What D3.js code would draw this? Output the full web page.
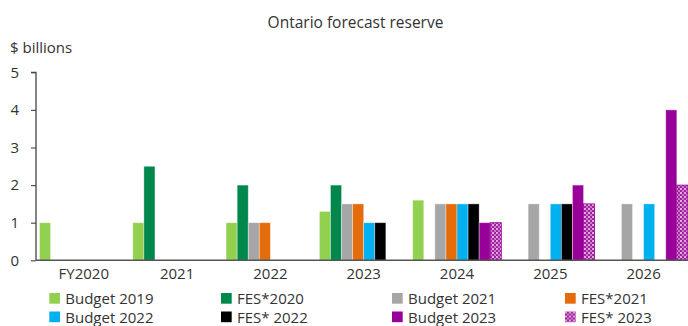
<!DOCTYPE html>
<html>
<head>
<meta charset="utf-8">
<script src="https://cdn.jsdelivr.net/npm/d3@7"></script>
<style>
  html, body { margin: 0; padding: 0; background: #fff; }
  svg { display: block; font-family: "Open Sans", "Noto Sans", sans-serif; }
</style>
</head>
<body>
<svg id="chart" width="688" height="326"></svg>
<script>
// Fiscal years on the category axis
const years = ["FY2020", "2021", "2022", "2023", "2024", "2025", "2026"];

// Each forecast vintage, $ billions per fiscal year (null = no forecast)
const budget2019 = [1, 1, 1, 1.3, 1.6, null, null];
const fes2020    = [null, 2.5, 2, 2, null, null, null];
const budget2021 = [null, null, 1, 1.5, 1.5, 1.5, 1.5];
const fes2021    = [null, null, 1, 1.5, 1.5, null, null];
const budget2022 = [null, null, null, 1, 1.5, 1.5, 1.5];
const fes2022    = [null, null, null, 1, 1.5, 1.5, null];
const budget2023 = [null, null, null, null, 1, 2, 4];
const fes2023    = [null, null, null, null, 1, 1.5, 2];

const seriesNames = ["Budget 2019", "FES*2020", "Budget 2021", "FES*2021",
                     "Budget 2022", "FES* 2022", "Budget 2023", "FES* 2023"];
const seriesValues = [budget2019, fes2020, budget2021, fes2021,
                      budget2022, fes2022, budget2023, fes2023];
const yTicks = [0, 1, 2, 3, 4, 5];

const colors = ["#92d050", "#00874b", "#a6a6a6", "#e46c0a",
                "#00b0f0", "#000000", "#990099", "url(#fesCheck)"];

const svg = d3.select("#chart");
const textColor = "#333";

// Checkered fill for the FES* 2023 vintage
const defs = svg.append("defs");
const pat = defs.append("pattern")
  .attr("id", "fesCheck")
  .attr("patternUnits", "userSpaceOnUse")
  .attr("width", 4).attr("height", 4);
pat.append("rect").attr("width", 4).attr("height", 4).attr("fill", "#a0239f");
pat.append("rect").attr("x", 0).attr("y", 0).attr("width", 2).attr("height", 2).attr("fill", "#e2a6df");
pat.append("rect").attr("x", 2).attr("y", 2).attr("width", 2).attr("height", 2).attr("fill", "#c77cc5");

const x0 = 36;
const baseY = 260.3;
const topY = 72.3;

const x = d3.scaleBand()
  .domain(years)
  .range([x0, 691.4])
  .paddingInner(0.0504)
  .paddingOuter(0.0375);

const xs = d3.scaleBand()
  .domain(seriesNames)
  .range([0, x.bandwidth()]);

const y = d3.scaleLinear().domain([0, 5]).range([baseY, topY]);

// Title and unit label
svg.append("text")
  .attr("x", 355.5).attr("y", 28)
  .attr("text-anchor", "middle")
  .attr("font-size", 15.5)
  .attr("fill", textColor)
  .text("Ontario forecast reserve");

svg.append("text")
  .attr("x", 10).attr("y", 52.5)
  .attr("font-size", 15)
  .attr("fill", textColor)
  .text("$ billions");

// Bars
const flat = [];
seriesValues.forEach((vals, si) => {
  vals.forEach((v, yi) => {
    if (v != null) flat.push({ series: seriesNames[si], si, year: years[yi], value: v });
  });
});

svg.append("g").selectAll("rect")
  .data(flat)
  .join("rect")
  .attr("x", d => x(d.year) + xs(d.series))
  .attr("y", d => y(d.value))
  .attr("width", xs.bandwidth())
  .attr("height", d => y(0) - y(d.value))
  .attr("fill", d => colors[d.si])
  .attr("stroke", d => d.si === 7 ? "#990099" : "rgba(255,255,255,0.45)")
  .attr("stroke-width", 0.8);

// Y axis
const yAxis = d3.axisLeft(y).tickValues(yTicks).tickSize(5).tickPadding(12).tickFormat(d3.format("d"));
const gy = svg.append("g").attr("transform", `translate(${x0},0)`).call(yAxis);
gy.select(".domain").attr("stroke", "#444").attr("stroke-width", 1.3).attr("d", `M-5,${topY}H0V${baseY}`);
gy.selectAll(".tick line").attr("stroke", "#444").attr("stroke-width", 1.1);
gy.selectAll(".tick text").attr("font-size", 15).attr("fill", textColor)
  .attr("font-family", "\"Open Sans\", sans-serif");

// X axis
const xAxis = d3.axisBottom(x).tickSize(0).tickPadding(8);
const gx = svg.append("g").attr("transform", `translate(0,${baseY})`).call(xAxis);
gx.select(".domain").attr("stroke", "#555").attr("stroke-width", 1.6).attr("d", `M${x0},0H688`);
gx.selectAll(".tick text").attr("font-size", 15).attr("fill", textColor)
  .attr("font-family", "\"Open Sans\", sans-serif");

// Legend, two rows of four
const legCols = [49.3, 221, 392, 565];
const legRows = [293, 311.5];
const leg = svg.append("g").selectAll("g")
  .data(seriesNames)
  .join("g")
  .attr("transform", (d, i) => `translate(${legCols[i % 4]},${legRows[Math.floor(i / 4)]})`);
leg.append("rect")
  .attr("width", 10.7).attr("height", 10.7)
  .attr("fill", (d, i) => colors[i]);
leg.append("text")
  .attr("x", 16).attr("y", 11)
  .attr("font-size", 15)
  .attr("fill", textColor)
  .text(d => d);
</script>
</body>
</html>
